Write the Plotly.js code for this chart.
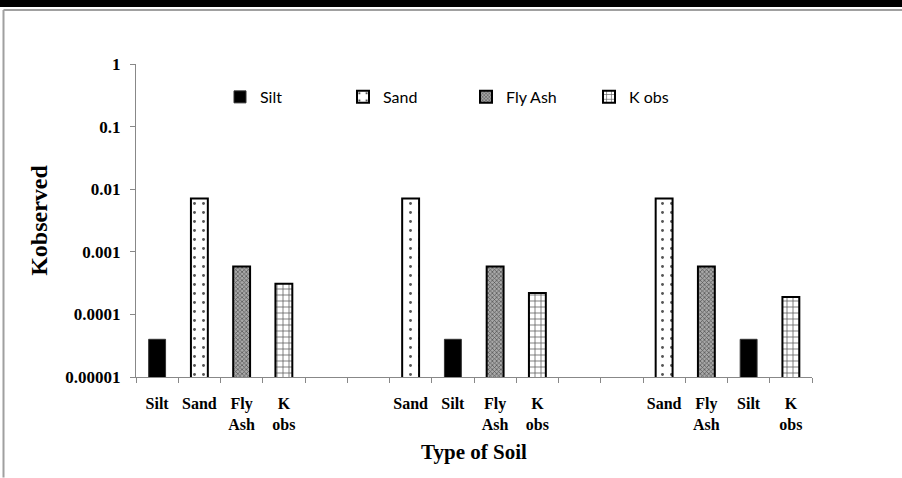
<!DOCTYPE html>
<html>
<head>
<meta charset="utf-8">
<script src="https://cdn.plot.ly/plotly-3.0.1.min.js"></script>
<style>
  html, body { margin: 0; padding: 0; background: #fff; }
  #chart { width: 902px; height: 478px; }
</style>
</head>
<body>
<div id="chart"></div>
<script>
// ---- data ----
const categories = ["Silt", "Sand", "Fly Ash", "K obs", "", "",
                    "Sand", "Silt", "Fly Ash", "K obs", "", "",
                    "Sand", "Fly Ash", "Silt", "K obs"];
const tickLabels = ["Silt", "Sand", "Fly<br>Ash", "K<br>obs", "", "",
                    "Sand", "Silt", "Fly<br>Ash", "K<br>obs", "", "",
                    "Sand", "Fly<br>Ash", "Silt", "K<br>obs"];
const values = [0.00004, 0.0071, 0.00058, 0.00031, null, null,
                0.0071, 0.00004, 0.00058, 0.00022, null, null,
                0.0071, 0.00058, 0.00004, 0.00019];
const seriesNames = ["Silt", "Sand", "Fly Ash", "K obs"];
const yTickVals = [0.00001, 0.0001, 0.001, 0.01, 0.1, 1];
const yTickText = ["0.00001", "0.0001", "0.001", "0.01", "0.1", "1"];

// ---- styles ----
const styles = {
  "Silt":    { color: "#000000", line: { color: "#333333", width: 1 }, pattern: { shape: "" } },
  "Sand":    { color: "#ffffff", line: { color: "#000000", width: 2 },
               pattern: { shape: ".", fgcolor: "#555555", bgcolor: "#ffffff", size: 9, solidity: 0.08 } },
  "Fly Ash": { color: "#8a8a8a", line: { color: "#000000", width: 2 },
               pattern: { shape: "x", fgcolor: "#505050", bgcolor: "#a8a8a8", size: 3, solidity: 0.4 } },
  "K obs":   { color: "#ffffff", line: { color: "#000000", width: 2 },
               pattern: { shape: "+", fgcolor: "#606060", bgcolor: "#ffffff", size: 6, solidity: 0.25 } }
};

const idx = categories.map((_, i) => i);
const traces = seriesNames.map(name => {
  const xs = [], ys = [];
  categories.forEach((c, i) => { if (c === name && values[i] !== null) { xs.push(i); ys.push(values[i]); } });
  const s = styles[name];
  return {
    type: "bar", name: name, x: xs, y: ys, width: 0.4,
    marker: { color: s.color, line: s.line, pattern: s.pattern },
    hoverinfo: "x+y"
  };
});

const n = categories.length;
const boundaries = [];
for (let i = 0; i <= n; i++) boundaries.push(i - 0.5);

// plot area in pixels: x 136..812, y 64..377
const L = 136, R = 812, T = 64, B = 377.3;
const px = v => (v - L) / (R - L);
const py = v => (B - v) / (B - T);

const serif = { family: "Liberation Serif, Times New Roman, serif", color: "#000", weight: "bold" };

const layout = {
  width: 902, height: 478,
  margin: { l: L, r: 902 - R, t: T, b: 478 - B },
  paper_bgcolor: "#ffffff", plot_bgcolor: "#ffffff",
  barmode: "overlay",
  showlegend: true,
  legend: {
    orientation: "h", x: px(220), y: py(97), xanchor: "left", yanchor: "middle",
    font: { family: "Lato, Open Sans, sans-serif", size: 16, color: "#000" },
    entrywidth: 78, entrywidthmode: "pixels",
    bgcolor: "rgba(0,0,0,0)", traceorder: "normal"
  },
  xaxis: {
    range: [-0.5, n - 0.5], fixedrange: true,
    tickmode: "array", tickvals: idx, ticktext: tickLabels,
    ticks: "", ticklabelstandoff: 12,
    tickfont: Object.assign({ size: 16 }, serif),
    minor: { tickmode: "array", tickvals: boundaries, ticks: "outside", ticklen: 5,
             tickcolor: "#888888", tickwidth: 1, showgrid: false },
    showline: true, linecolor: "#888888", linewidth: 1,
    showgrid: false, zeroline: false,
    title: { text: "Type of Soil", font: Object.assign({ size: 21 }, serif), standoff: 12 }
  },
  yaxis: {
    type: "log", range: [-5, 0], fixedrange: true,
    tickmode: "array", tickvals: yTickVals, ticktext: yTickText,
    ticks: "outside", ticklen: 5, tickcolor: "#888888",
    showline: true, linecolor: "#888888", linewidth: 1,
    showgrid: false, zeroline: false,
    tickfont: Object.assign({ size: 17 }, serif), ticklabelstandoff: 6,
    title: { text: "Kobserved", font: Object.assign({ size: 24 }, serif), standoff: 10 }
  },
  shapes: [
    { type: "rect", xref: "paper", yref: "paper", x0: px(0), x1: px(902), y0: py(7), y1: py(0),
      fillcolor: "#000", line: { width: 0 }, layer: "above" },
    { type: "line", xref: "paper", yref: "paper", x0: px(3.5), x1: px(902), y0: py(10), y1: py(10),
      line: { color: "#a0a0a0", width: 2 } },
    { type: "line", xref: "paper", yref: "paper", x0: px(3.5), x1: px(3.5), y0: py(10), y1: py(478),
      line: { color: "#a0a0a0", width: 2 } }
  ]
};

Plotly.newPlot("chart", traces, layout, { displayModeBar: false, staticPlot: true });
</script>
</body>
</html>
